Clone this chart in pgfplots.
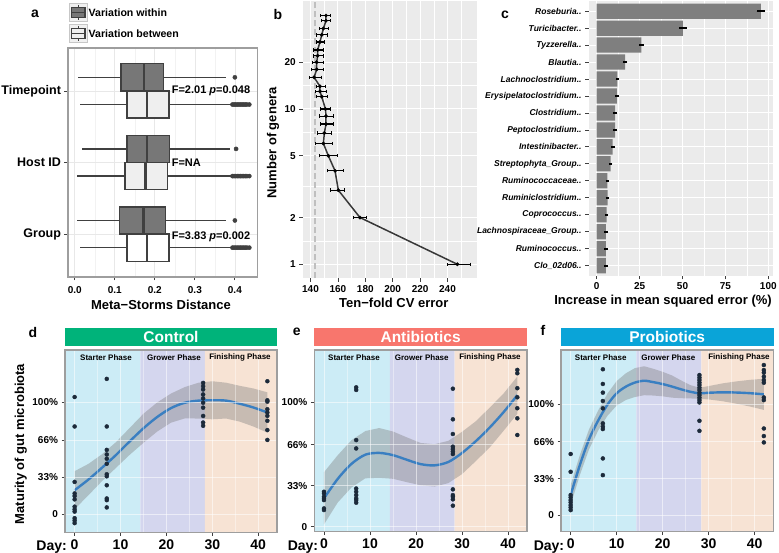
\documentclass[border=0pt]{standalone}
\usepackage{fontspec}
\setmainfont{Liberation Sans}
\usepackage{pgfplots}
\pgfplotsset{compat=1.18}
\usepgfplotslibrary{statistics}
\definecolor{pbg}{HTML}{EBEBEB}
\definecolor{withinfill}{HTML}{777777}
\definecolor{betweenfill}{HTML}{EFEFEF}
\definecolor{boxedge}{HTML}{404040}
\definecolor{barfill}{HTML}{7F7F7F}
\definecolor{starter}{HTML}{CCECF6}
\definecolor{grower}{HTML}{D4D6EE}
\definecolor{finish}{HTML}{F7E3D4}
\definecolor{ctrl}{HTML}{00B37A}
\definecolor{anti}{HTML}{F8766D}
\definecolor{probi}{HTML}{0AA4D8}
\definecolor{fitblue}{HTML}{3A7FC1}
\definecolor{ptcol}{HTML}{1C2A3A}
\pgfplotsset{
  base/.style={
    scale only axis, anchor=north west,
    /pgf/number format/assume math mode=true,
    tick align=outside, tick pos=left,
    major tick length=3.5pt, minor tick length=0pt,
    every tick/.append style={draw=black!75, line width=0.8pt},
  },
  mat/.style={base, axis on top,
    xmin=-2.1, xmax=44.1,
    xtick={0,10,20,30,40}, minor xtick={5,15,25,35},
    ytick={0,33,66,100}, yticklabels={0,33\%,66\%,100\%},
    xticklabel style={font=\fontsize{14}{16}\selectfont\bfseries},
    yticklabel style={font=\fontsize{10}{12}\selectfont\bfseries},
    grid=both, major grid style={draw=white, opacity=0.55, line width=0.8pt},
    minor grid style={draw=white, opacity=0.4, line width=0.4pt},
    axis line style={draw=black!38, line width=1.4pt},
  },
  pts/.style={only marks, mark=*, mark size=2pt, ptcol},
  fit/.style={fitblue, line width=2.4pt, smooth},
  rib/.style={fill=black!50, fill opacity=0.4, draw=none},
  bx/.style={boxedge, line width=1.5pt},
}
\begin{document}
\begin{tikzpicture}
\useasboundingbox (0,0) rectangle (779pt,552pt);

% ---------------- panel a ----------------
\begin{axis}[base,
  at={(68pt,504pt)}, width=189.3pt, height=229pt,
  xmin=-0.017, xmax=0.456, ymin=0.4, ymax=3.6,
  xtick={0,0.1,0.2,0.3,0.4}, xticklabels={0.0,0.1,0.2,0.3,0.4},
  minor xtick={0.05,0.15,0.25,0.35},
  ytick={1,2,3}, yticklabels={Group,Host ID,Timepoint},
  xticklabel style={font=\fontsize{10}{12}\selectfont\bfseries, yshift=-2.5pt},
  yticklabel style={font=\fontsize{12.5}{14}\selectfont\bfseries},
  grid=both, major grid style={draw=black!9, line width=0.7pt},
  minor grid style={draw=black!5, line width=0.4pt},
  axis line style={draw=black!38, line width=1.4pt},
  boxplot/draw direction=x,
]
\addplot[bx, boxplot prepared={draw position=3.19, lower whisker=0.007, lower quartile=0.115, median=0.173, upper quartile=0.221, upper whisker=0.379, box extend=0.38, whisker extend=0, every box/.style={draw=boxedge, fill=withinfill}, every median/.style={line width=2.6pt}}] coordinates {};
\addplot[bx, boxplot prepared={draw position=2.81, lower whisker=0.013, lower quartile=0.13, median=0.18, upper quartile=0.235, upper whisker=0.392, box extend=0.38, whisker extend=0, every box/.style={draw=boxedge, fill=betweenfill}, every median/.style={line width=2.6pt}}] coordinates {};
\addplot[bx, boxplot prepared={draw position=2.19, lower whisker=0.017, lower quartile=0.13, median=0.18, upper quartile=0.236, upper whisker=0.388, box extend=0.38, whisker extend=0, every box/.style={draw=boxedge, fill=withinfill}, every median/.style={line width=2.6pt}}] coordinates {};
\addplot[bx, boxplot prepared={draw position=1.81, lower whisker=0.005, lower quartile=0.125, median=0.177, upper quartile=0.231, upper whisker=0.392, box extend=0.38, whisker extend=0, every box/.style={draw=boxedge, fill=betweenfill}, every median/.style={line width=2.6pt}}] coordinates {};
\addplot[bx, boxplot prepared={draw position=1.19, lower whisker=0.005, lower quartile=0.112, median=0.172, upper quartile=0.226, upper whisker=0.379, box extend=0.38, whisker extend=0, every box/.style={draw=boxedge, fill=withinfill}, every median/.style={line width=2.6pt}}] coordinates {};
\addplot[bx, boxplot prepared={draw position=0.81, lower whisker=0.013, lower quartile=0.13, median=0.18, upper quartile=0.235, upper whisker=0.392, box extend=0.38, whisker extend=0, every box/.style={draw=boxedge, fill=white}, every median/.style={line width=2.6pt}}] coordinates {};
\addplot[only marks, mark=*, mark size=2.1pt, boxedge] coordinates {(0.400,3.19)(0.403,2.19)(0.400,1.19)};
\addplot[only marks, mark=*, mark size=2.1pt, boxedge] coordinates {
(0.394,2.81)(0.398,2.81)(0.402,2.81)(0.406,2.81)(0.410,2.81)(0.414,2.81)(0.418,2.81)(0.422,2.81)(0.426,2.81)(0.430,2.81)(0.436,2.81)
(0.394,1.81)(0.398,1.81)(0.402,1.81)(0.406,1.81)(0.410,1.81)(0.414,1.81)(0.418,1.81)(0.422,1.81)(0.426,1.81)(0.430,1.81)(0.436,1.81)
(0.394,0.81)(0.398,0.81)(0.402,0.81)(0.406,0.81)(0.410,0.81)(0.414,0.81)(0.418,0.81)(0.422,0.81)(0.426,0.81)(0.430,0.81)(0.436,0.81)};
\node[anchor=west, inner sep=0, font=\fontsize{11}{13}\selectfont\bfseries] at (axis cs:0.242,3.0) {F=2.01 \textit{p}=0.048};
\node[anchor=west, inner sep=0, font=\fontsize{11}{13}\selectfont\bfseries] at (axis cs:0.242,1.99) {F=NA};
\node[anchor=west, inner sep=0, font=\fontsize{11}{13}\selectfont\bfseries] at (axis cs:0.242,0.96) {F=3.83 \textit{p}=0.002};
\end{axis}

% ---------------- panel b ----------------
\begin{axis}[base,
  at={(302.7pt,551pt)}, width=174pt, height=277.3pt,
  ymode=log, xmin=134.3, xmax=261.3, ymin=0.8125, ymax=49.6,
  xtick={140,160,180,200,220,240}, minor xtick={130,150,170,190,210,230,250},
  ytick={1,2,5,10,20}, yticklabels={1,2,5,10,20},
  minor ytick={1.414,3.162,7.071,14.14,28.28},
  xticklabel style={font=\fontsize{10}{12}\selectfont\bfseries},
  yticklabel style={font=\fontsize{10}{12}\selectfont\bfseries},
  axis background/.style={fill=pbg},
  grid=both, major grid style={draw=white, line width=1pt},
  minor grid style={draw=white, line width=0.5pt},
  axis line style={draw=none},
]
\addplot[draw=black!25, line width=1.5pt, dash pattern=on 6pt off 3pt] coordinates {(143.3,0.8125)(143.3,49.6)};
\addplot[draw=black!78, line width=1.5pt] coordinates {
(151.3,40)(151.3,37)(149.4,33)(148.2,30)(146.9,27)(145.2,24)(145.2,22)(144.5,20)(144.5,18)(142.6,16)
(146.9,14)(146.9,13)(148.2,12)(150.9,10)(151.3,9)(151.3,8)(150.1,7)(149.4,6)(153,5)(157.9,4)(160.3,3)(176.1,2)(247.2,1)};
\addplot[only marks, mark=*, mark size=1.7pt, black,
  error bars/.cd, x dir=both, x explicit, error bar style={line width=1.1pt, black}]
coordinates {
(151.3,40) += (3.4,0) -= (4.4,0)
(151.3,37) += (3.4,0) -= (3.6,0)
(149.4,33) += (3.6,0) -= (3.2,0)
(148.2,30) += (4.1,0) -= (3.7,0)
(146.9,27) += (3.0,0) -= (2.4,0)
(145.2,24) += (3.7,0) -= (3.2,0)
(145.2,22) += (4.2,0) -= (3.6,0)
(144.5,20) += (4.4,0) -= (3.6,0)
(144.5,18) += (4.4,0) -= (4.1,0)
(142.6,16) += (5.3,0) -= (3.5,0)
(146.9,14) += (3.7,0) -= (2.9,0)
(146.9,13) += (4.4,0) -= (3.6,0)
(148.2,12) += (4.1,0) -= (3.7,0)
(150.9,10) += (3.8,0) -= (4.0,0)
(151.3,9) += (5.4,0) -= (4.9,0)
(151.3,8) += (5.4,0) -= (4.4,0)
(150.1,7) += (4.9,0) -= (4.9,0)
(149.4,6) += (6.5,0) -= (6.3,0)
(153,5) += (6.8,0) -= (6.8,0)
(157.9,4) += (6.1,0) -= (5.6,0)
(160.3,3) += (4.2,0) -= (5.6,0)
(176.1,2) += (4.9,0) -= (4.9,0)
(247.2,1) += (9.2,0) -= (7.8,0)};
\end{axis}

% ---------------- panel c ----------------
\begin{axis}[base,
  at={(588.5pt,551pt)}, width=184.8pt, height=274.8pt,
  xbar, bar width=0.9,
  xmin=-4.78, xmax=102.9, ymin=0.4, ymax=16.6,
  xtick={0,25,50,75,100}, minor xtick={12.5,37.5,62.5,87.5},
  ytick={1,2,3,4,5,6,7,8,9,10,11,12,13,14,15,16},
  yticklabels={Clo\_02d06..,Ruminococcus..,Lachnospiraceae\_Group..,Coprococcus..,Ruminiclostridium..,Ruminococcaceae..,Streptophyta\_Group..,Intestinibacter..,Peptoclostridium..,Clostridium..,Erysipelatoclostridium..,Lachnoclostridium..,Blautia..,Tyzzerella..,Turicibacter..,Roseburia..},
  xticklabel style={font=\fontsize{10}{12}\selectfont\bfseries},
  yticklabel style={font=\fontsize{8.5}{10}\selectfont\bfseries\itshape},
  axis background/.style={fill=pbg},
  grid=both, major grid style={draw=white, line width=1pt},
  minor grid style={draw=white, line width=0.5pt},
  axis line style={draw=none},
]
\addplot[fill=barfill, draw=none,
  error bars/.cd, x dir=both, x explicit, error mark=none, error bar style={line width=1.8pt, black}]
coordinates {
(5.3,1) +- (1,0)
(5.3,2) +- (1,0)
(5.4,3) +- (1,0)
(5.8,4) +- (1,0)
(6.4,5) +- (1,0)
(6.2,6) +- (1,0)
(8.1,7) +- (1,0)
(9.3,8) +- (1.1,0)
(10.7,9) +- (1,0)
(10.7,10) +- (1,0)
(11.7,11) +- (1,0)
(12,12) +- (1,0)
(16.5,13) +- (1.3,0)
(26,14) +- (1.5,0)
(50.2,15) +- (2.2,0)
(95.7,16) +- (2.5,0)};
\end{axis}

% ---------------- panel d ----------------
\begin{axis}[mat, at={(65pt,202pt)}, width=212pt, height=182.3pt, ymin=-16.1, ymax=146.7]
\addplot[fill=starter, draw=none] coordinates {(-2.1,-16.1)(14.3,-16.1)(14.3,146.7)(-2.1,146.7)(-2.1,-16.1)};
\addplot[fill=grower, draw=none] coordinates {(14.3,-16.1)(28.4,-16.1)(28.4,146.7)(14.3,146.7)(14.3,-16.1)};
\addplot[fill=finish, draw=none] coordinates {(28.4,-16.1)(44.1,-16.1)(44.1,146.7)(28.4,146.7)(28.4,-16.1)};
\addplot[rib] coordinates {(0,38.5)(3,45)(6,53.7)(9,64.4)(12,77.1)(15,89.8)(18,99.9)(21,107.8)(24,113.6)(27,117.5)(30,118.8)(33,117.5)(36,114.7)(39,112.3)(42,108.9)
(42,72.9)(39,78.3)(36,82.7)(33,85.5)(30,84.8)(27,85.5)(24,85.6)(21,81.8)(18,73.9)(15,63.8)(12,53.1)(9,41.4)(6,29.7)(3,17)(0,4.5)(0,38.5)};
\addplot[pts] coordinates {
(0,104.7)(0,78.4)(0,28.9)(0,18.6)(0,16.3)(0,13.3)(0,6.8)(0,4.4)(0,2.4)(0,-3.5)(0,-5.6)(0,-7.9)
(7,120.9)(7,78.4)(7,57.5)(7,53.4)(7,49.6)(7,45.1)(7,35.7)(7,33.9)(7,25.9)(7,14.1)(7,12.6)(7,6.1)
(28,117.3)(28,114.4)(28,111.4)(28,107)(28,103.5)(28,99.6)(28,95.2)(28,87.8)(28,81.9)(28,79)
(42,118.8)(42,101.8)(42,100.6)(42,93.8)(42,90.9)(42,87.9)(42,83.5)(42,75.2)(42,66.4)};
\addplot[fit] coordinates {(0,21.5)(3,31)(6,41.7)(9,52.9)(12,65.1)(15,76.8)(18,86.9)(21,94.8)(24,99.6)(27,101.5)(30,101.8)(33,101.5)(36,98.7)(39,95.3)(42,90.9)};
\end{axis}

% ---------------- panel e ----------------
\begin{axis}[mat, at={(314.3pt,202pt)}, width=212.7pt, height=181.7pt, ymin=-4, ymax=142]
\addplot[fill=starter, draw=none] coordinates {(-2.1,-4)(14.3,-4)(14.3,142)(-2.1,142)(-2.1,-4)};
\addplot[fill=grower, draw=none] coordinates {(14.3,-4)(28.4,-4)(28.4,142)(14.3,142)(14.3,-4)};
\addplot[fill=finish, draw=none] coordinates {(28.4,-4)(44.1,-4)(44.1,142)(28.4,142)(28.4,-4)};
\addplot[rib] coordinates {(0,43.8)(3,57.5)(6,69.6)(9,76.9)(12,79.3)(15,76.5)(18,71.8)(21,67.3)(24,66.3)(27,69)(30,76.3)(33,84.8)(36,95.7)(39,107)(42,120.7)
(42,90.7)(39,77)(36,63.7)(33,52.8)(30,42.3)(27,35)(24,32.3)(21,33.3)(18,35.8)(15,38.5)(12,39.3)(9,38.9)(6,31.6)(3,19.5)(0,1.8)(0,43.8)};
\addplot[pts] coordinates {
(0,28.1)(0,26.8)(0,24.1)(0,22.8)(0,21.4)(0,14.7)(0,13.4)
(7,112)(7,109.9)(7,69.6)(7,62.9)(7,30.7)(7,28.1)(7,25.4)(7,22.8)(7,21.4)(7,19.3)
(28,110.9)(28,86.3)(28,74.5)(28,64.3)(28,62.4)(28,60.3)(28,58.4)(28,30)(28,25.4)(28,24.1)(28,22)(28,16.9)
(42,126)(42,123.3)(42,111.3)(42,104)(42,95.2)(42,87.1)(42,73.7)};
\addplot[fit] coordinates {(0,22.8)(3,38.5)(6,50.6)(9,57.9)(12,59.3)(15,57.5)(18,53.8)(21,50.3)(24,49.3)(27,52)(30,59.3)(33,68.8)(36,79.7)(39,92)(42,105.7)};
\end{axis}

% ---------------- panel f ----------------
\begin{axis}[mat, at={(561pt,202pt)}, width=212.5pt, height=181.7pt, ymin=-14.7, ymax=148.5]
\addplot[fill=starter, draw=none] coordinates {(-2.1,-14.7)(14.3,-14.7)(14.3,148.5)(-2.1,148.5)(-2.1,-14.7)};
\addplot[fill=grower, draw=none] coordinates {(14.3,-14.7)(28.4,-14.7)(28.4,148.5)(14.3,148.5)(14.3,-14.7)};
\addplot[fill=finish, draw=none] coordinates {(28.4,-14.7)(44.1,-14.7)(44.1,148.5)(28.4,148.5)(28.4,-14.7)};
\addplot[rib] coordinates {(0,27.2)(2,54.2)(4,77.3)(6,94.3)(8,109.4)(10,120.6)(12,127.6)(14,132.3)(16,133.9)(18,131.6)(20,128.9)(22,125.7)(24,121.2)(26,117)(28,114.6)(30,116.1)(33,118.5)(36,120.3)(39,121.7)(42,122.7)
(42,94.7)(39,97.7)(36,100.3)(33,102.5)(30,104.1)(28,104.6)(26,105)(24,105.2)(22,105.7)(20,106.9)(18,107.6)(16,107.9)(14,106.3)(12,103.6)(10,98.6)(8,89.4)(6,76.3)(4,59.3)(2,36.2)(0,9.2)(0,27.2)};
\addplot[pts] coordinates {
(0,55.1)(0,39.1)(0,18.2)(0,16.1)(0,13.7)(0,11.6)(0,9.2)(0,7.1)(0,4.7)
(7,131.2)(7,118)(7,110.2)(7,102.7)(7,96.1)(7,82.6)(7,79.6)(7,77.5)(7,51.1)(7,36.1)
(28,126)(28,123.7)(28,121.5)(28,119.2)(28,117)(28,114.7)(28,112.5)(28,110.2)(28,108)(28,105.7)(28,103.5)(28,101.4)(28,84.9)(28,75.9)
(42,135)(42,130.5)(42,128.1)(42,124.5)(42,121.5)(42,119.1)(42,105.9)(42,103.5)(42,78)(42,71.2)(42,65.5)};
\addplot[fit] coordinates {(0,18.2)(2,45.2)(4,68.3)(6,85.3)(8,99.4)(10,109.6)(12,115.6)(14,119.3)(16,120.9)(18,119.6)(20,117.9)(22,115.7)(24,113.2)(26,111)(28,109.6)(30,110.1)(33,110.5)(36,110.3)(39,109.7)(42,108.7)};
\end{axis}

% ---------------- decorations ----------------
\draw[draw=black!22, fill=black!6, line width=0.8pt] (69.5pt,530.5pt) rectangle (87pt,548.5pt);
\draw[boxedge, line width=1.2pt] (78.25pt,532pt) -- (78.25pt,547pt);
\draw[boxedge, fill=withinfill, line width=1.2pt] (71.5pt,534.5pt) rectangle (85pt,544.5pt);
\draw[boxedge, line width=1.6pt] (71.5pt,539.5pt) -- (85pt,539.5pt);
\draw[draw=black!22, fill=black!6, line width=0.8pt] (69.5pt,509.5pt) rectangle (87pt,527.5pt);
\draw[boxedge, line width=1.2pt] (78.25pt,511pt) -- (78.25pt,526pt);
\draw[boxedge, fill=betweenfill, line width=1.2pt] (71.5pt,513.5pt) rectangle (85pt,523.5pt);
\draw[boxedge, line width=1.6pt] (71.5pt,518.5pt) -- (85pt,518.5pt);
\node[anchor=west, inner sep=0, font=\fontsize{10.6}{12}\selectfont\bfseries] at (88.5pt,539pt) {Variation within};
\node[anchor=west, inner sep=0, font=\fontsize{10.6}{12}\selectfont\bfseries] at (88.5pt,518.5pt) {Variation between};

\node[font=\fontsize{14}{16}\selectfont\bfseries] at (35pt,538pt) {a};
\node[font=\fontsize{14}{16}\selectfont\bfseries] at (278pt,537pt) {b};
\node[font=\fontsize{14}{16}\selectfont\bfseries] at (505pt,537pt) {c};
\node[font=\fontsize{14}{16}\selectfont\bfseries] at (33pt,220pt) {d};
\node[font=\fontsize{14}{16}\selectfont\bfseries] at (296.7pt,220pt) {e};
\node[font=\fontsize{14}{16}\selectfont\bfseries] at (543pt,222pt) {f};

\node[anchor=base, font=\fontsize{13}{15}\selectfont\bfseries] at (161pt,242.7pt) {Meta−Storms Distance};
\node[anchor=base, font=\fontsize{13}{15}\selectfont\bfseries] at (393.8pt,244.3pt) {Ten−fold CV error};
\node[anchor=base, font=\fontsize{13}{15}\selectfont\bfseries] at (663pt,247pt) {Increase in mean squared error (\%)};
\node[rotate=90, font=\fontsize{13}{15}\selectfont\bfseries] at (273pt,409pt) {Number of genera};
\node[rotate=90, font=\fontsize{13}{15}\selectfont\bfseries] at (20.7pt,108pt) {Maturity of gut microbiota};

\fill[ctrl] (65pt,206.3pt) rectangle (277pt,224.3pt);
\node[text=white, font=\fontsize{15.5}{17}\selectfont\bfseries] at (171pt,215.3pt) {Control};
\fill[anti] (314.3pt,206.3pt) rectangle (527pt,224.3pt);
\node[text=white, font=\fontsize{15.5}{17}\selectfont\bfseries] at (420.6pt,215.3pt) {Antibiotics};
\fill[probi] (561pt,206.3pt) rectangle (773.5pt,224.3pt);
\node[text=white, font=\fontsize{15.5}{17}\selectfont\bfseries] at (667.2pt,215.3pt) {Probiotics};

\foreach \sx/\gx/\fx in {106/174/240, 354/421.7/490, 600.7/668.3/739}{
  \node[font=\fontsize{8}{9}\selectfont\bfseries] at (\sx pt,194.3pt) {Starter Phase};
  \node[font=\fontsize{8}{9}\selectfont\bfseries] at (\gx pt,194.3pt) {Grower Phase};
  \node[font=\fontsize{8}{9}\selectfont\bfseries] at (\fx pt,194.3pt) {Finishing Phase};
}

\node[anchor=base east, inner sep=0, font=\fontsize{14}{16}\selectfont\bfseries] at (67pt,2pt) {Day:};
\node[anchor=base east, inner sep=0, font=\fontsize{14}{16}\selectfont\bfseries] at (318.3pt,2pt) {Day:};
\node[anchor=base east, inner sep=0, font=\fontsize{14}{16}\selectfont\bfseries] at (564.3pt,2pt) {Day:};
\end{tikzpicture}
\end{document}
